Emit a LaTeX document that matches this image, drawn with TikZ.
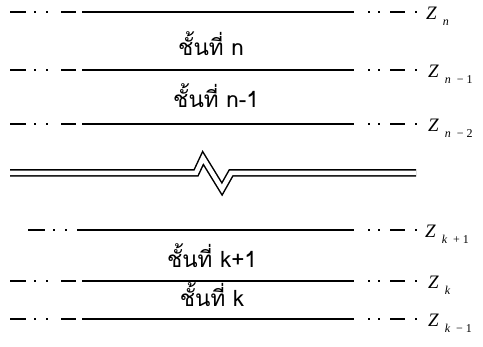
\documentclass[tikz,border=0pt]{standalone}
\usepackage{fontspec}
\setmainfont{Liberation Serif}
\newfontfamily\thaifont[Script=Thai]{Loma}
\newcommand{\zsub}[1]{\hspace{6pt}\raisebox{-6pt}{\fontsize{12}{12}\selectfont #1}}
\begin{document}
\begin{tikzpicture}[
    x=1pt, y=-1pt,
    solidline/.style={line width=2pt},
    leftdash/.style={line width=2pt,
        dash pattern=on 16pt off 8pt on 2pt off 10pt on 2pt off 13pt on 15pt off 200pt},
    rightdash/.style={line width=2pt,
        dash pattern=on 2pt off 8pt on 2pt off 10pt on 15pt off 10pt on 2pt off 200pt},
    layer/.style={font=\thaifont\fontsize{22.5}{22.5}\selectfont, inner sep=0pt, anchor=base},
    zlabel/.style={font=\fontsize{19}{19}\selectfont\itshape, inner sep=0pt, anchor=base west},
    breakline/.style={line width=1.5pt, double, double distance=4.5pt, miter limit=20},
]
\useasboundingbox (0,0) rectangle (483,347);

% ===== TOP LAYERS =====
\draw[leftdash]  (10,12) -- (76,12);
\draw[solidline] (82,12) -- (354,12);
\draw[rightdash] (368,12) -- (418,12);
\node[zlabel] (zn) at (426,20) {Z\zsub{n}};

\node[layer] (ln) at (211,56) {ชั้นที่ n};

\draw[leftdash]  (10,70) -- (76,70);
\draw[solidline] (82,70) -- (354,70);
\draw[rightdash] (368,70) -- (418,70);
\node[zlabel] (zn1) at (428,78) {Z\zsub{n \upshape{} − 1}};

\node[layer] (ln1) at (216,108) {ชั้นที่ n-1};

\draw[leftdash]  (10,124) -- (76,124);
\draw[solidline] (82,124) -- (354,124);
\draw[rightdash] (368,124) -- (418,124);
\node[zlabel] (zn2) at (428,132) {Z\zsub{n \upshape{} − 2}};

% Break in the stack
\draw[breakline] (10,173) -- (196,173) -- (203,158) -- (222,189) -- (231,173) -- (416,173);

% ===== BOTTOM LAYERS =====
\draw[leftdash, dash pattern=on 17pt off 8pt on 2pt off 10pt on 2pt off 200pt] (28,230) -- (67,230);
\draw[solidline] (77,230) -- (354,230);
\draw[rightdash] (368,230) -- (418,230);
\node[zlabel] (zk1) at (425,238) {Z\zsub{k \upshape{} + 1}};

\node[layer] (lk1) at (212,268) {ชั้นที่ k+1};

\draw[leftdash]  (10,281) -- (76,281);
\draw[solidline] (82,281) -- (354,281);
\draw[rightdash] (368,281) -- (418,281);
\node[zlabel] (zk) at (428,289) {Z\zsub{k}};

\node[layer] (lk) at (212,307) {ชั้นที่ k};

\draw[leftdash]  (10,319) -- (76,319);
\draw[solidline] (82,319) -- (354,319);
\draw[rightdash] (368,319) -- (418,319);
\node[zlabel] (zk0) at (428,327) {Z\zsub{k \upshape{} − 1}};

\end{tikzpicture}
\end{document}
